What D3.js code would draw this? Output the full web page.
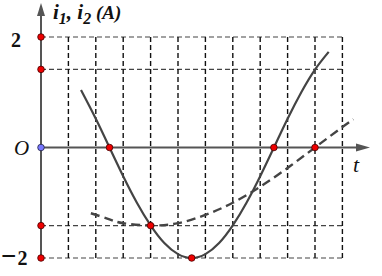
<!DOCTYPE html>
<html><head><meta charset="utf-8">
<script src="https://cdn.jsdelivr.net/npm/d3@7"></script>
<style>html,body{margin:0;padding:0;background:#fff;}svg{display:block;}</style>
</head><body>
<script>
// Grid / tick data
const xGrid = [1,2,3,4,5,6,7,8,9,10,11];
const yGrid = [2, 1.414, -1.414, -2];
// Solid curve i1
const i1T = [1.46, 2, 2.5, 3, 3.5, 4, 4.5, 5, 5.5, 6, 6.5, 7, 7.5, 8, 8.5, 9, 9.5, 10, 10.5];
const i1V = [1.04, 0.52, 0, -0.52, -1.0, -1.41, -1.73, -1.93, -2, -1.93, -1.73, -1.41, -1.0, -0.52, 0, 0.52, 1.0, 1.41, 1.73];
// Dashed curve i2
const i2T = [1.82, 2.5, 3, 4, 5, 6, 7, 8, 9, 10, 11, 11.4];
const i2V = [-1.19, -1.30, -1.37, -1.41, -1.37, -1.22, -1.0, -0.71, -0.37, 0, 0.37, 0.51];
// Highlighted points
const redT = [0, 0, 0, 0, 2.5, 4, 5.5, 8.5, 10];
const redV = [2, 1.414, -1.414, -2, 0, -1.414, -2, 0, 0];

const W = 382, H = 276;
const svg = d3.select("body").append("svg").attr("width", W).attr("height", H);
const x = d3.scaleLinear().domain([0, 11]).range([41, 342.4]);
const y = d3.scaleLinear().domain([-2, 2]).range([258, 37]);

// grid
svg.selectAll(".hg").data(yGrid).enter().append("line")
  .attr("x1", x(0)).attr("x2", x(11)).attr("y1", d => y(d)).attr("y2", d => y(d))
  .attr("stroke", "#444").attr("stroke-width", 1.2).attr("stroke-dasharray", "5,3");
svg.selectAll(".vg").data(xGrid).enter().append("line")
  .attr("x1", d => x(d)).attr("x2", d => x(d)).attr("y1", y(2)).attr("y2", y(-2))
  .attr("stroke", "#111").attr("stroke-width", 1.4).attr("stroke-dasharray", "5,3");

// axes
const axisC = "#555";
svg.append("line").attr("x1", x(0)).attr("x2", x(0)).attr("y1", y(-2)).attr("y2", 14)
  .attr("stroke", axisC).attr("stroke-width", 2);
svg.append("path").attr("d", `M${x(0)},3 L${x(0)-4},16 L${x(0)+4},16 Z`).attr("fill", axisC);
svg.append("line").attr("x1", x(0)).attr("x2", 358).attr("y1", y(0)).attr("y2", y(0))
  .attr("stroke", axisC).attr("stroke-width", 2);
svg.append("path").attr("d", `M370,${y(0)} L356,${y(0)-4} L356,${y(0)+4} Z`).attr("fill", axisC);

// curves
const line = d3.line().x(d => x(d[0])).y(d => y(d[1])).curve(d3.curveNatural);
svg.append("path").datum(i2T.map((t, k) => [t, i2V[k]])).attr("d", line)
  .attr("fill", "none").attr("stroke", "#444").attr("stroke-width", 2.4).attr("stroke-dasharray", "9,5");
svg.append("path").datum(i1T.map((t, k) => [t, i1V[k]])).attr("d", line)
  .attr("fill", "none").attr("stroke", "#444").attr("stroke-width", 2.2);

// points
svg.selectAll(".rp").data(redT.map((t, k) => [t, redV[k]])).enter().append("circle")
  .attr("cx", d => x(d[0])).attr("cy", d => y(d[1])).attr("r", 3.3)
  .attr("fill", "#e00").attr("stroke", "#400").attr("stroke-width", 0.8);
svg.append("circle").attr("cx", x(0)).attr("cy", y(0)).attr("r", 3.3)
  .attr("fill", "#77f").attr("stroke", "#224").attr("stroke-width", 0.8);

// labels
const serif = "'Liberation Serif', serif";
const lab = svg.append("text").attr("x", 53).attr("y", 19)
  .attr("font-family", serif).attr("font-style", "italic").attr("font-weight", "bold")
  .attr("font-size", 21).attr("fill", "#111");
lab.append("tspan").text("i");
lab.append("tspan").attr("font-size", 16).attr("dy", 5).text("1");
lab.append("tspan").attr("dy", -5).text(", i");
lab.append("tspan").attr("font-size", 16).attr("dy", 5).text("2");
lab.append("tspan").attr("dy", -5).attr("font-size", 19).text(" (A)");

svg.append("text").attr("x", 11).attr("y", 47).text("2")
  .attr("font-family", serif).attr("font-weight", "bold").attr("font-size", 20).attr("fill", "#111");
const m2 = svg.append("text").attr("x", 1).attr("y", 265)
  .attr("font-family", serif).attr("font-weight", "bold").attr("fill", "#111");
m2.append("tspan").attr("font-size", 27).text("\u2212");
m2.append("tspan").attr("font-size", 20).attr("dx", 1).text("2");
svg.append("text").attr("x", 14).attr("y", 155).text("O")
  .attr("font-family", serif).attr("font-style", "italic").attr("font-size", 21).attr("fill", "#111");
svg.append("text").attr("x", 353).attr("y", 172).text("t")
  .attr("font-family", serif).attr("font-style", "italic").attr("font-size", 22).attr("fill", "#111");
</script>
</body></html>
